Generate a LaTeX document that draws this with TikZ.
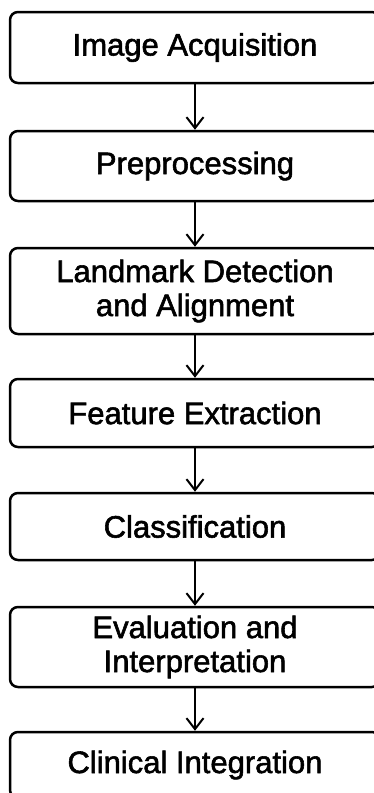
\documentclass[tikz,border=0pt]{standalone}
\usepackage{fontspec}
\setmainfont{Liberation Sans}[FakeBold=1.8]
\usetikzlibrary{arrows.meta}
\begin{document}
\begin{tikzpicture}[x=1pt,y=1pt,
  stage/.style={draw, line width=2.5pt, rounded corners=8pt, minimum width=370pt,
    align=center, font=\fontsize{31}{34}\selectfont, inner sep=0pt},
  flow/.style={line width=2pt, -{Straight Barb[length=11pt,width=17pt,line width=2pt]}}]
  \useasboundingbox (0,0) rectangle (374,-793);
  \node[stage, minimum height=71pt] (s1) at (195,-47.5) {Image Acquisition};
  \node[stage, minimum height=70pt] (s2) at (195,-166) {Preprocessing};
  \node[stage, minimum height=86pt] (s3) at (195,-291) {Landmark Detection\\and Alignment};
  \node[stage, minimum height=68pt] (s4) at (195,-413) {Feature Extraction};
  \node[stage, minimum height=67pt] (s5) at (195,-526.5) {Classification};
  \node[stage, minimum height=80pt] (s6) at (195,-647) {Evaluation and\\Interpretation};
  \node[stage, minimum height=66pt] (s7) at (195,-765) {Clinical Integration};
  \foreach \a/\b in {s1/s2,s2/s3,s3/s4,s4/s5,s5/s6,s6/s7}
    \draw[flow] (\a.south) -- (\b.north);
\end{tikzpicture}
\end{document}
